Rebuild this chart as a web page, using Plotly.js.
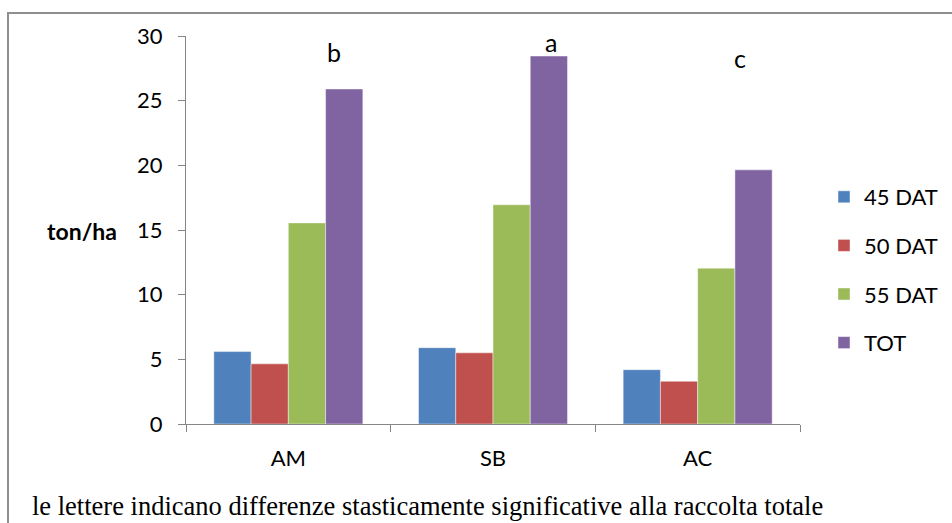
<!DOCTYPE html>
<html>
<head>
<meta charset="utf-8">
<script src="https://cdn.plot.ly/plotly-3.0.1.min.js"></script>
<style>
html,body{margin:0;padding:0;background:#fff;}
#chart{width:952px;height:523px;}
</style>
</head>
<body>
<div id="chart"></div>
<script>
// ---- data ----
const categories = ["AM", "SB", "AC"];
const seriesNames = ["45 DAT", "50 DAT", "55 DAT", "TOT"];
const dat45 = [5.6, 5.9, 4.2];
const dat50 = [4.65, 5.5, 3.3];
const dat55 = [15.55, 16.95, 12.05];
const tot = [25.9, 28.45, 19.65];
const letters = ["b", "a", "c"];
const yTicks = [0, 5, 10, 15, 20, 25, 30];
const caption = "le lettere indicano differenze stasticamente significative alla raccolta totale";
const yTitle = "ton/ha";

const colors = ["#4F81BD", "#C0504D", "#9BBB59", "#8064A2"];
const seriesVals = [dat45, dat50, dat55, tot];

const font = "Lato, 'Open Sans', sans-serif";

const traces = seriesVals.map((vals, i) => ({
  type: "bar",
  name: seriesNames[i],
  x: categories,
  y: vals,
  legendgroup: "g" + i,
  marker: {color: colors[i], line: {color: "rgba(255,255,255,0.55)", width: 0.8}},
  hoverinfo: "skip"
}));

// plot area in pixels: left 186, right 800, top 36, bottom 424
const L = 186, R = 800, T = 36, B = 424;
const W = R - L, H = B - T;
const px = x => (x - L) / W;
const py = y => (B - y) / H;

const letterX = [334, 551, 740];
const letterY = [28.75, 29.5, 28.3];

const annotations = letters.map((t, i) => ({
  text: t, xref: "paper", yref: "y", x: px(letterX[i]), y: letterY[i],
  xanchor: "center", yanchor: "middle", showarrow: false,
  font: {family: font, size: 25, color: "#000"}
}));
annotations.push({
  text: "<b>" + yTitle + "</b>", xref: "paper", yref: "paper",
  x: px(82), y: py(231), xanchor: "center", yanchor: "middle", showarrow: false,
  font: {family: font, size: 23, color: "#000"}
});
annotations.push({
  text: caption, xref: "paper", yref: "paper",
  x: px(30), y: py(506), xanchor: "left", yanchor: "middle", showarrow: false,
  font: {family: "'Liberation Serif', 'Times New Roman', serif", size: 26.5, color: "#000"}
});

const layout = {
  width: 952, height: 523,
  margin: {l: L, r: 952 - R, t: T, b: 523 - B, autoexpand: false},
  paper_bgcolor: "#fff", plot_bgcolor: "#fff",
  barmode: "group", bargap: 0.272, bargroupgap: 0,
  showlegend: true,
  legend: {
    x: px(824), y: py(176), xanchor: "left", yanchor: "top",
    font: {family: font, size: 22, color: "#000"},
    tracegroupgap: 17, bgcolor: "rgba(0,0,0,0)"
  },
  xaxis: {
    type: "category", tickson: "boundaries", ticks: "outside", ticklen: 7,
    tickcolor: "#868686", showline: true, linecolor: "#868686", linewidth: 1,
    showgrid: false, zeroline: false, automargin: false,
    tickfont: {family: font, size: 22, color: "#000"},
    ticklabelstandoff: 15
  },
  yaxis: {
    range: [0, 30], tickvals: yTicks, ticktext: yTicks.map(String),
    ticks: "outside", ticklen: 7, tickcolor: "#868686",
    showline: true, linecolor: "#868686", linewidth: 1,
    showgrid: false, zeroline: false, automargin: false,
    tickfont: {family: font, size: 22, color: "#000"},
    ticklabelstandoff: 11
  },
  shapes: [{
    type: "path", xref: "paper", yref: "paper",
    path: "M " + px(8) + "," + py(530) + " L " + px(8) + "," + py(13) + " L " + px(960) + "," + py(13),
    line: {color: "#8f8f8f", width: 2}
  }],
  annotations: annotations
};

Plotly.newPlot("chart", traces, layout, {displayModeBar: false, staticPlot: true});
</script>
</body>
</html>
